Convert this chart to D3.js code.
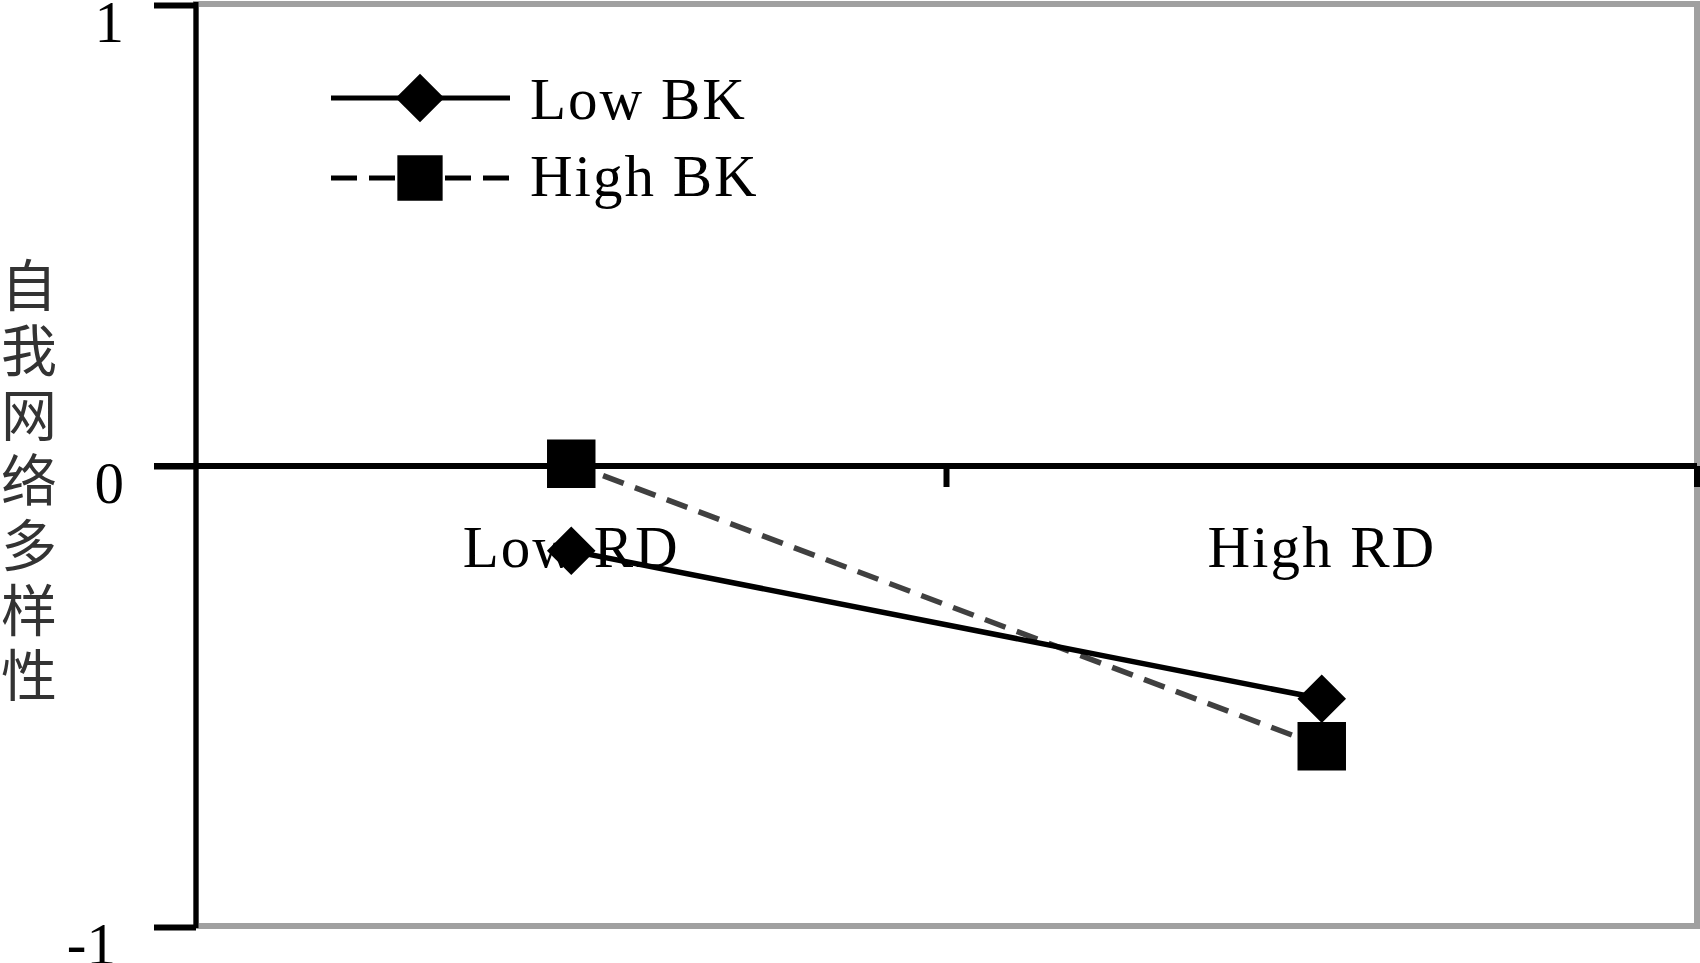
<!DOCTYPE html>
<html>
<head>
<meta charset="utf-8">
<script src="https://cdn.jsdelivr.net/npm/d3@7"></script>
<style>
  html, body { margin: 0; padding: 0; background: #fff; }
  svg { display: block; }
</style>
</head>
<body>
<svg id="chart" width="1700" height="963"></svg>
<script>
// ---- data ----
const categories = ["Low RD", "High RD"];
const seriesNames = ["Low BK", "High BK"];
const lowBK = [-0.184, -0.505];
const highBK = [0.005, -0.608];
const yTicks = [-1, 0, 1];
const yTickLabels = ["-1", "0", "1"];
const yTitle = "自我网络多样性";

// ---- layout ----
const W = 1700, H = 963;
const pLeft = 196, pRight = 1697, pTop = 4, pBottom = 926;
const serif = "'Liberation Serif', 'Times New Roman', serif";

const svg = d3.select("#chart");
svg.append("rect").attr("width", W).attr("height", H).attr("fill", "#fff");

const x = d3.scaleBand().domain(categories).range([pLeft, pRight]).paddingInner(0).paddingOuter(0);
const y = d3.scaleLinear().domain([-1, 1]).range([pBottom + 1, pTop + 1]);

// plot frame (gray)
svg.append("rect")
  .attr("x", pLeft).attr("y", pTop)
  .attr("width", pRight - pLeft).attr("height", pBottom - pTop)
  .attr("fill", "none").attr("stroke", "#a0a0a0").attr("stroke-width", 6);

// y axis
const yAxis = d3.axisLeft(y).tickValues(yTicks).tickSize(42)
  .tickFormat((d, i) => yTickLabels[i]);
const gy = svg.append("g").attr("transform", `translate(${pLeft},0)`).call(yAxis);
gy.select(".domain").attr("stroke", "#000").attr("stroke-width", 5)
  .attr("d", `M0,${pTop - 2}V${pBottom + 2}`);
gy.selectAll(".tick line").attr("stroke", "#000").attr("stroke-width", 6);
gy.selectAll(".tick text")
  .attr("x", d => d < 0 ? -80 : -72).attr("dy", null).attr("y", 36)
  .attr("fill", "#000").attr("font-family", serif).attr("font-size", 59)
  .attr("text-anchor", "end");

// zero line (category axis)
const y0 = y(0);
svg.append("line").attr("x1", 154).attr("x2", pRight).attr("y1", y0).attr("y2", y0)
  .attr("stroke", "#000").attr("stroke-width", 6);
svg.selectAll(".cattick").data(categories).join("line")
  .attr("class", "cattick")
  .attr("x1", d => x(d) + x.bandwidth()).attr("x2", d => x(d) + x.bandwidth())
  .attr("y1", y0).attr("y2", y0 + 21)
  .attr("stroke", "#000").attr("stroke-width", 6);

// category labels
svg.selectAll(".catlabel").data(categories).join("text")
  .attr("class", "catlabel")
  .attr("x", d => x(d) + x.bandwidth() / 2)
  .attr("y", y0 + 101)
  .attr("text-anchor", "middle")
  .attr("font-family", serif).attr("font-size", 59)
  .attr("letter-spacing", 2)
  .attr("fill", "#000")
  .text(d => d);

// lines
const line = d3.line().x((d, i) => x(categories[i]) + x.bandwidth() / 2).y(d => y(d));
svg.append("path").datum(highBK).attr("d", line)
  .attr("fill", "none").attr("stroke", "#404040").attr("stroke-width", 5.5)
  .attr("stroke-dasharray", "22,12");
svg.append("path").datum(lowBK).attr("d", line)
  .attr("fill", "none").attr("stroke", "#000").attr("stroke-width", 5.5);

// markers
const diamond = d3.symbol().type(d3.symbolSquare).size(1180);
const square = d3.symbol().type(d3.symbolSquare).size(2350);
svg.selectAll(".mk-low").data(lowBK).join("path")
  .attr("class", "mk-low")
  .attr("d", diamond)
  .attr("transform", (d, i) => `translate(${x(categories[i]) + x.bandwidth() / 2},${y(d)}) rotate(45)`)
  .attr("fill", "#000");
svg.selectAll(".mk-high").data(highBK).join("path")
  .attr("class", "mk-high")
  .attr("d", square)
  .attr("transform", (d, i) => `translate(${x(categories[i]) + x.bandwidth() / 2},${y(d)})`)
  .attr("fill", "#000");

// legend
const legend = svg.append("g");
const legY = [98, 178];
seriesNames.forEach((name, i) => {
  const g = legend.append("g").attr("transform", `translate(0,${legY[i]})`);
  g.append("line").attr("x1", 331).attr("x2", 510).attr("y1", 0).attr("y2", 0)
    .attr("stroke", "#000").attr("stroke-width", 5)
    .attr("stroke-dasharray", i === 1 ? "26,12" : null);
  g.append("path")
    .attr("d", i === 0 ? diamond() : d3.symbol().type(d3.symbolSquare).size(2050)())
    .attr("transform", i === 0 ? "translate(420,0) rotate(45)" : "translate(420,0)")
    .attr("fill", "#000");
  g.append("text").attr("x", 530).attr("y", i === 0 ? 21 : 18)
    .attr("font-family", serif).attr("font-size", 59).attr("letter-spacing", 2)
    .attr("fill", "#000").text(name);
});

// y title (vertical)
svg.append("text")
  .attr("x", 29).attr("y", 257)
  .attr("font-family", "'Noto Sans CJK SC', sans-serif")
  .attr("font-size", 56)
  .attr("fill", "#333")
  .attr("letter-spacing", 9)
  .style("writing-mode", "vertical-rl")
  .style("text-orientation", "upright")
  .text(yTitle);
</script>
</body>
</html>
